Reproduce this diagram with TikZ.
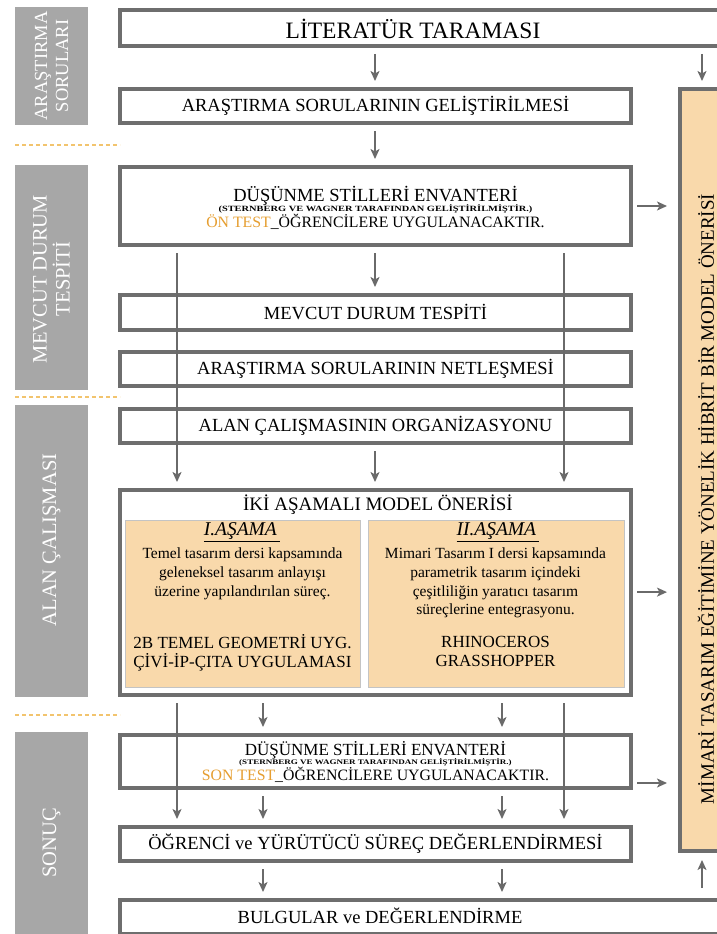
\documentclass[tikz,border=0pt]{standalone}
\usepackage{fontspec}
\setmainfont{Liberation Serif}
\usepackage{graphicx}
\usetikzlibrary{arrows.meta}
\definecolor{bdr}{HTML}{6E6E6E}
\definecolor{arrc}{HTML}{6A6A6A}
\definecolor{barg}{HTML}{A7A7A7}
\definecolor{peach}{HTML}{F9D9AB}
\definecolor{panelb}{HTML}{C4C4C4}
\definecolor{dashc}{HTML}{F2C46E}
\definecolor{accent}{HTML}{E69E30}
\newcommand\fsz[2]{\fontsize{#1pt}{#2pt}\selectfont}
\begin{document}
\begin{tikzpicture}[x=1pt,y=-1pt,
  box/.style={draw=bdr, line width=4pt, fill=white, inner sep=0pt, outer sep=0pt,
              minimum width=511pt, font=\fsz{18.5}{22}},
  bar/.style={fill=barg, inner sep=0pt, outer sep=0pt, minimum width=73pt},
  bartxt/.style={text=white, rotate=90, align=center, inner sep=0pt},
  panel/.style={fill=peach, draw=panelb, line width=0.8pt, inner sep=0pt, outer sep=0pt},
  txt/.style={inner sep=0pt, align=center},
  arr/.style={draw=arrc, line width=1.6pt, -{Stealth[length=10pt,width=9pt,inset=2.5pt]},
              shorten <=8pt, shorten >=8pt},
  harr/.style={arr, shorten <=6pt, shorten >=13pt},
  sepline/.style={draw=dashc, line width=1.2pt, dash pattern=on 4pt off 3pt}]
\useasboundingbox (0,0) rectangle (717,934);

% arrow columns
\coordinate (cA) at (177,0);
\coordinate (cB) at (263,0);
\coordinate (cC) at (375,0);
\coordinate (cD) at (502,0);
\coordinate (cE) at (564,0);
\coordinate (cR) at (702,0);

% phase bars on the left
\node[bar, minimum height=118pt] (b1) at (51.5,66) {};
\node[bar, minimum height=225pt] (b2) at (51.5,277.5) {};
\node[bar, minimum height=292pt] (b3) at (51.5,551) {};
\node[bar, minimum height=228pt] (b4) at (51.5,846) {};
\node[bartxt, font=\fsz{18.5}{21}] (t1) at (51.5,66) {ARAŞTIRMA\\SORULARI};
\node[bartxt, font=\fsz{20.5}{23}] (t2) at (51.5,279) {MEVCUT DURUM\\TESPİTİ};
\node[bartxt, font=\fsz{20.5}{23}] (t3) at (51.5,540) {ALAN ÇALIŞMASI};
\node[bartxt, font=\fsz{20.5}{23}] (t4) at (51.5,843) {SONUÇ};

% phase separators
\draw[sepline] (15,145) -- (120,145);
\draw[sepline] (15,397) -- (120,397);
\draw[sepline] (15,715) -- (120,715);

% main flow boxes
\node[box, minimum width=618pt, minimum height=36pt] (lit) at (429,28) {};
\node[txt, font=\fsz{23.5}{26}] (litt) at (413,29) {LİTERATÜR TARAMASI};
\node[box, minimum height=34pt] (ars) at (375.5,106) {ARAŞTIRMA SORULARININ GELİŞTİRİLMESİ};
\node[box, minimum height=78pt] (dus1) at (375.5,206) {};
\node[txt, font=\fsz{18.5}{20}] (dus1a) at (375.5,196) {DÜŞÜNME STİLLERİ ENVANTERİ};
\node[txt, font=\fsz{8}{9}\bfseries] (dus1b) at (375.5,209) {\scalebox{1.3}[1]{(STERNBERG VE WAGNER TARAFINDAN GELİŞTİRİLMİŞTİR.)}};
\node[txt, font=\fsz{15.8}{17}] (dus1c) at (375.5,222) {\textcolor{accent}{ÖN TEST}\_ÖĞRENCİLERE UYGULANACAKTIR.};
\node[box, minimum height=35pt] (mev) at (375.5,312.5) {MEVCUT DURUM TESPİTİ};
\node[box, minimum height=34pt] (net) at (375.5,369) {ARAŞTIRMA SORULARININ NETLEŞMESİ};
\node[box, minimum height=34pt] (alan) at (375.5,426) {ALAN ÇALIŞMASININ ORGANİZASYONU};
\node[box, minimum height=205pt] (iki) at (375.5,592.5) {};
\node[txt, font=\fsz{19}{21}] (ikit) at (378,505) {İKİ AŞAMALI MODEL ÖNERİSİ};
\node[box, minimum height=53pt] (dus2) at (375.5,761.5) {};
\node[txt, font=\fsz{17}{19}] (dus2a) at (375.5,750) {DÜŞÜNME STİLLERİ ENVANTERİ};
\node[txt, font=\fsz{7}{8}\bfseries] (dus2b) at (375.5,762) {\scalebox{1.29}[1]{(STERNBERG VE WAGNER TARAFINDAN GELİŞTİRİLMİŞTİR.)}};
\node[txt, font=\fsz{15.8}{17}] (dus2c) at (375.5,775) {\textcolor{accent}{SON TEST}\_ÖĞRENCİLERE UYGULANACAKTIR.};
\node[box, minimum height=34pt] (ogr) at (375.5,844) {ÖĞRENCİ ve YÜRÜTÜCÜ SÜREÇ DEĞERLENDİRMESİ};
\node[box, minimum width=618pt, minimum height=34pt] (bul) at (429,917) {};
\node[txt, font=\fsz{18.5}{20}] (bult) at (380,916) {BULGULAR ve DEĞERLENDİRME};

% two-stage panels
\node[panel, minimum width=235pt, minimum height=167pt] (p1) at (242.5,603.5) {};
\node[panel, minimum width=256pt, minimum height=167pt] (p2) at (496,603.5) {};
\node[txt, font=\fsz{19.5}{21}] (p1t) at (242,532) {\underline{\textit{I.AŞAMA}\,}};
\node[txt, font=\fsz{15.5}{19}] (p1d) at (242.5,574) {Temel tasarım dersi kapsamında\\geleneksel tasarım anlayışı\\üzerine yapılandırılan süreç.};
\node[txt, font=\fsz{17}{19}] (p1b) at (242.5,652.5) {2B TEMEL GEOMETRİ UYG.\\ÇİVİ-İP-ÇITA UYGULAMASI};
\node[txt, font=\fsz{19.5}{21}] (p2t) at (498,532) {\underline{\textit{II.AŞAMA}\,}};
\node[txt, font=\fsz{15.5}{18.7}] (p2d) at (495.5,583) {Mimari Tasarım I dersi kapsamında\\parametrik tasarım içindeki\\çeşitliliğin yaratıcı tasarım\\süreçlerine entegrasyonu.};
\node[txt, font=\fsz{17}{19}] (p2b) at (495.5,651.5) {RHINOCEROS\\GRASSHOPPER};

% outcome box on the right
\node[box, minimum width=58pt, minimum height=762pt, fill=peach] (mim) at (709,470) {};
\node[txt, rotate=90, font=\fsz{19}{21}] (mimt) at (706,499) {MİMARİ TASARIM EĞİTİMİNE YÖNELİK HİBRİT BİR MODEL ÖNERİSİ};

% connectors
\draw[arr] (lit.south -| cC) -- (ars.north -| cC);
\draw[arr] (lit.south -| cR) -- (mim.north -| cR);
\draw[arr] (ars.south -| cC) -- (dus1.north -| cC);
\draw[arr] (dus1.south -| cC) -- (mev.north -| cC);
\draw[arr] (dus1.south -| cA) -- (iki.north -| cA);
\draw[arr] (dus1.south -| cE) -- (iki.north -| cE);
\draw[arr] (alan.south -| cC) -- (iki.north -| cC);
\draw[arr] (iki.south -| cA) -- (ogr.north -| cA);
\draw[arr] (iki.south -| cE) -- (ogr.north -| cE);
\draw[arr] (iki.south -| cB) -- (dus2.north -| cB);
\draw[arr] (iki.south -| cD) -- (dus2.north -| cD);
\draw[arr] (dus2.south -| cB) -- (ogr.north -| cB);
\draw[arr] (dus2.south -| cD) -- (ogr.north -| cD);
\draw[arr] (ogr.south -| cB) -- (bul.north -| cB);
\draw[arr] (ogr.south -| cD) -- (bul.north -| cD);
\draw[arr, shorten <=12pt, shorten >=9pt] (bul.north -| cR) -- (mim.south -| cR);
\draw[harr] (dus1.east) -- (dus1.east -| mim.west);
\draw[harr] ([yshift=0.4pt]iki.east) -- ([yshift=0.4pt]iki.east -| mim.west);
\draw[harr] ([yshift=-21.5pt]dus2.east) -- ([yshift=-21.5pt]dus2.east -| mim.west);
\end{tikzpicture}
\end{document}
